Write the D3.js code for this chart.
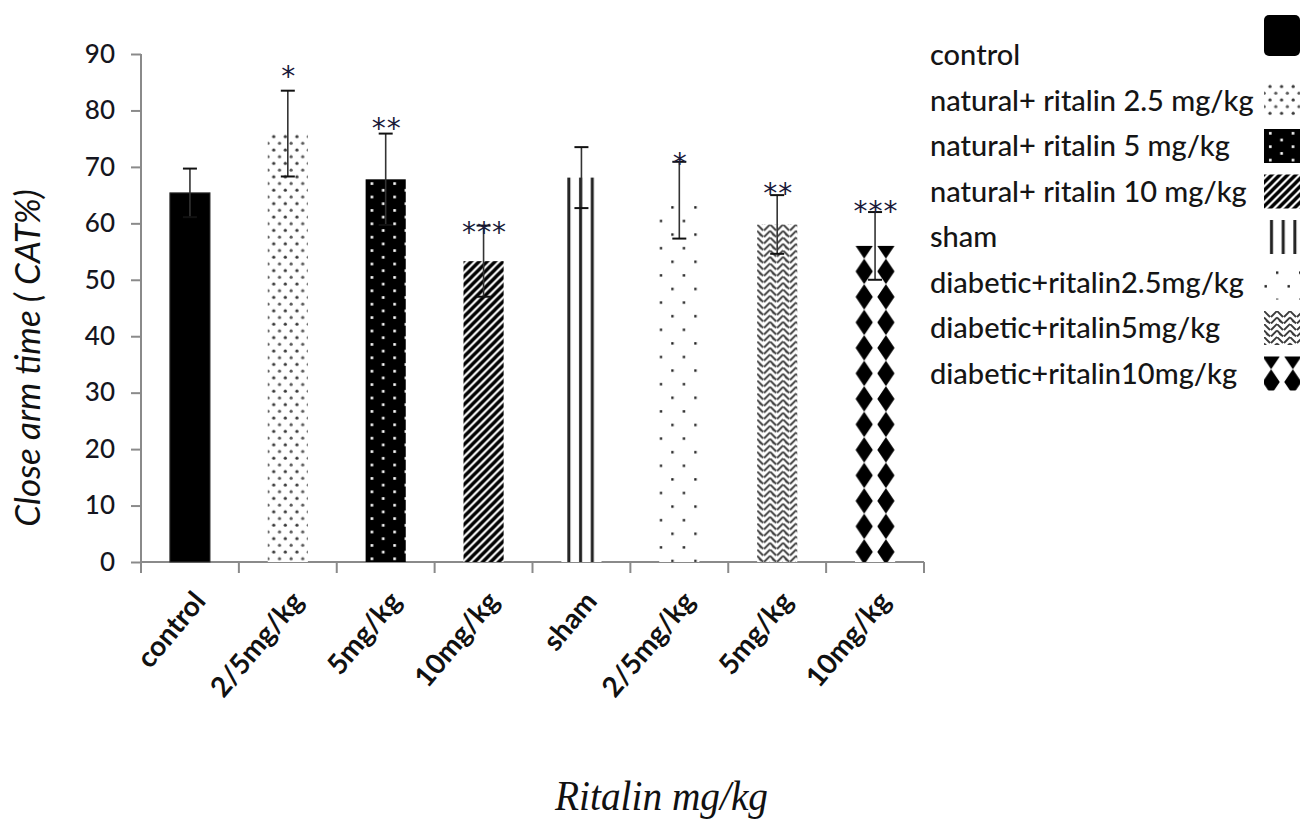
<!DOCTYPE html>
<html>
<head>
<meta charset="utf-8">
<script src="https://cdn.jsdelivr.net/npm/d3@7"></script>
<style>
  html, body { margin: 0; padding: 0; background: #fff; }
  svg { display: block; }
</style>
</head>
<body>
<svg id="chart" width="1301" height="821"></svg>
<script>
// values
const categories = ["control", "2/5mg/kg", "5mg/kg", "10mg/kg", "sham", "2/5mg/kg", "5mg/kg", "10mg/kg"];
const groups = [
  "control",
  "natural+ ritalin 2.5 mg/kg",
  "natural+ ritalin 5 mg/kg",
  "natural+ ritalin 10 mg/kg",
  "sham",
  "diabetic+ritalin2.5mg/kg",
  "diabetic+ritalin5mg/kg",
  "diabetic+ritalin10mg/kg"
];
const means = [65.4, 75.9, 67.8, 53.3, 68.1, 64.1, 59.8, 56.0];
const errors = [4.3, 7.6, 8.1, 6.3, 5.4, 6.8, 5.2, 6.0];
const stars = ["", "*", "**", "***", "", "*", "**", "***"];
const starLevel = [null, 87.2, 78.0, 59.5, null, 71.8, 66.4, 63.3];
const yTicks = [0, 10, 20, 30, 40, 50, 60, 70, 80, 90];
const fills = ["solid", "fineDots", "blackDots", "diag", "vert", "sparse", "weave", "diamonds"];

const width = 1301, height = 821;
const margin = { left: 141, right: 377, top: 54, bottom: 259 };

const svg = d3.select("#chart");
const defs = svg.append("defs");

const idx = d3.range(categories.length);

const xEdge = d3.scaleBand()
  .domain(idx)
  .range([margin.left, width - margin.right])
  .padding(0);

const x = d3.scaleBand()
  .domain(idx)
  .range([margin.left, width - margin.right])
  .paddingInner(0.59)
  .paddingOuter(0.295);

const y = d3.scaleLinear()
  .domain([0, 90])
  .range([height - margin.bottom, margin.top]);

/* ---------- patterns ---------- */
function makePattern(id, kind, x0, y0) {
  let p = defs.append("pattern")
    .attr("id", id)
    .attr("patternUnits", "userSpaceOnUse")
    .attr("x", x0).attr("y", y0);
  if (kind === "fineDots") {
    p.attr("width", 11.6).attr("height", 13.4);
    p.append("rect").attr("width", 11.6).attr("height", 13.4).attr("fill", "#fff");
    p.append("circle").attr("cx", 6).attr("cy", 3).attr("r", 1.6).attr("fill", "#3a3a3a");
    p.append("circle").attr("cx", 0.2).attr("cy", 9.7).attr("r", 1.6).attr("fill", "#5a5a5a");
    p.append("circle").attr("cx", 11.8).attr("cy", 9.7).attr("r", 1.6).attr("fill", "#5a5a5a");
  } else if (kind === "blackDots") {
    p.attr("width", 22.7).attr("height", 13.4);
    p.append("rect").attr("width", 22.7).attr("height", 13.4).attr("fill", "#000");
    p.append("rect").attr("x", 5).attr("y", 3).attr("width", 2.6).attr("height", 2.6).attr("fill", "#fff");
    p.append("rect").attr("x", 16.3).attr("y", 9.7).attr("width", 2.6).attr("height", 2.6).attr("fill", "#fff");
  } else if (kind === "diag") {
    p.attr("width", 8).attr("height", 8);
    p.append("rect").attr("width", 8).attr("height", 8).attr("fill", "#fff");
    p.append("path")
      .attr("d", "M-1,9 L9,-1 M-2,2 L2,-2 M6,10 L10,6")
      .attr("stroke", "#000").attr("stroke-width", 3.4);
  } else if (kind === "vert") {
    p.attr("width", 11.7).attr("height", 10);
    p.append("rect").attr("width", 11.7).attr("height", 10).attr("fill", "#fff");
    p.append("rect").attr("x", 6).attr("width", 3).attr("height", 10).attr("fill", "#222");
  } else if (kind === "sparse") {
    p.attr("width", 23).attr("height", 27.2);
    p.append("rect").attr("width", 23).attr("height", 27.2).attr("fill", "#fff");
    p.append("rect").attr("x", 12).attr("y", 6).attr("width", 2.4).attr("height", 2.4).attr("fill", "#222");
    p.append("rect").attr("x", 0.5).attr("y", 19.6).attr("width", 2.4).attr("height", 2.4).attr("fill", "#222");
  } else if (kind === "weave") {
    p.attr("width", 13).attr("height", 13);
    p.append("rect").attr("width", 13).attr("height", 13).attr("fill", "#fff");
    p.append("path")
      .attr("d", "M0,0 L6,6 M0,6.5 L6,12.5 M0,-6.5 L6,-0.5 M7,6 L13,0 M7,12.5 L13,6.5 M7,19 L13,13 M2,9 L4,11")
      .attr("stroke", "#3c3c3c").attr("stroke-width", 1.9).attr("fill", "none");
  } else if (kind === "diamonds") {
    const w = 21.7, h = 25.5;
    p.attr("width", w).attr("height", h);
    p.append("rect").attr("width", w).attr("height", h).attr("fill", "#fff");
    const dia = cy => `M${w / 2},${cy - 12.8} L${w / 2 + 8.6},${cy} L${w / 2},${cy + 12.8} L${w / 2 - 8.6},${cy} Z`;
    p.append("path").attr("d", dia(0) + " " + dia(h)).attr("fill", "#000");
  }
  return "url(#" + id + ")";
}

function fillFor(i, kind, x0, y0, tag) {
  if (kind === "solid") return "#000";
  return makePattern("pat-" + tag + "-" + i, kind, x0, y0);
}

/* ---------- axes ---------- */
const yAxis = d3.axisLeft(y)
  .tickValues(yTicks)
  .tickSize(10)
  .tickPadding(16);

const yAxisSel = svg.append("g")
  .attr("class", "yaxis")
  .attr("transform", "translate(" + margin.left + ",0)")
  .call(yAxis);

yAxisSel.selectAll("path, line").attr("stroke", "#8a8a8a").attr("stroke-width", 2);
yAxisSel.select(".domain").attr("d", "M0," + y(90) + "V" + y(0));
yAxisSel.selectAll("text")
  .style("font-family", "Lato, 'Open Sans', sans-serif")
  .style("font-size", "26px")
  .style("font-weight", "500")
  .attr("fill", "#151520");

const xAxisSel = svg.append("g").attr("class", "xaxis");
xAxisSel.append("line")
  .attr("x1", margin.left).attr("x2", width - margin.right)
  .attr("y1", y(0)).attr("y2", y(0))
  .attr("stroke", "#8a8a8a").attr("stroke-width", 2);

const edges = idx.map(i => xEdge(i)).concat([xEdge.range()[1]]);
xAxisSel.selectAll("line.tick").data(edges).join("line")
  .attr("class", "tick")
  .attr("x1", d => d).attr("x2", d => d)
  .attr("y1", y(0)).attr("y2", y(0) + 11)
  .attr("stroke", "#8a8a8a").attr("stroke-width", 2);

xAxisSel.selectAll("text").data(categories).join("text")
  .attr("transform", (d, i) => "translate(" + (x(i) + x.bandwidth() / 2 + 17) + "," + (y(0) + 40) + ") rotate(-50)")
  .attr("text-anchor", "end")
  .style("font-family", "Lato, 'Open Sans', sans-serif")
  .style("font-size", "28px")
  .style("font-weight", "bold")
  .attr("fill", "#111")
  .text(d => d);

/* ---------- bars ---------- */
svg.append("g").attr("class", "bars")
  .selectAll("rect").data(means).join("rect")
  .attr("x", (d, i) => x(i))
  .attr("y", d => y(d))
  .attr("width", x.bandwidth())
  .attr("height", d => y(0) - y(d))
  .attr("fill", (d, i) => {
    const k = fills[i];
    let ox = x(i);
    if (k === "diamonds") ox = x(i) + x.bandwidth() / 2 - 21.7;
    return fillFor(i, k, ox, y(d), "bar");
  })
  .attr("stroke", (d, i) => fills[i] === "solid" ? "#333" : "none")
  .attr("stroke-width", 1);

/* ---------- error bars ---------- */
const errG = svg.append("g").attr("class", "errors");
const cx = i => x(i) + x.bandwidth() / 2;
errG.selectAll("line.stem").data(means).join("line")
  .attr("class", "stem")
  .attr("x1", (d, i) => cx(i)).attr("x2", (d, i) => cx(i))
  .attr("y1", (d, i) => y(d - errors[i])).attr("y2", (d, i) => y(d + errors[i]))
  .attr("stroke", "#333").attr("stroke-width", 1.6);
errG.selectAll("line.capTop").data(means).join("line")
  .attr("class", "capTop")
  .attr("x1", (d, i) => cx(i) - 7).attr("x2", (d, i) => cx(i) + 7)
  .attr("y1", (d, i) => y(d + errors[i])).attr("y2", (d, i) => y(d + errors[i]))
  .attr("stroke", "#111").attr("stroke-width", 2);
errG.selectAll("line.capBot").data(means).join("line")
  .attr("class", "capBot")
  .attr("x1", (d, i) => cx(i) - 7).attr("x2", (d, i) => cx(i) + 7)
  .attr("y1", (d, i) => y(d - errors[i])).attr("y2", (d, i) => y(d - errors[i]))
  .attr("stroke", "#111").attr("stroke-width", 2);

/* ---------- significance stars ---------- */
svg.append("g").attr("class", "stars")
  .selectAll("text").data(idx.filter(i => stars[i])).join("text")
  .attr("x", i => cx(i) + 1)
  .attr("y", i => y(starLevel[i]) + 16)
  .attr("text-anchor", "middle")
  .style("font-family", "'DejaVu Sans', sans-serif")
  .style("font-size", "28px")
  .style("letter-spacing", "1px")
  .attr("fill", "#1b1b3a")
  .text(i => stars[i]);

/* ---------- axis titles ---------- */
svg.append("text")
  .attr("transform", "translate(40," + ((y(0) + y(90)) / 2 + 50) + ") rotate(-90)")
  .attr("text-anchor", "middle")
  .style("font-family", "Lato, 'Open Sans', sans-serif")
  .style("font-size", "35px")
  .style("font-style", "italic")
  .attr("fill", "#111")
  .text("Close  arm time ( CAT%)");

svg.append("text")
  .attr("x", 555)
  .attr("y", 810)
  .attr("textLength", 213)
  .attr("lengthAdjust", "spacingAndGlyphs")
  .style("font-family", "'Liberation Serif', 'Times New Roman', serif")
  .style("font-size", "43px")
  .style("font-style", "italic")
  .attr("fill", "#111")
  .text("Ritalin mg/kg");

/* ---------- legend ---------- */
const rowY = i => 55 + 45.5 * i;
const legendSel = svg.append("g").attr("class", "legend");

legendSel.selectAll("text").data(groups).join("text")
  .attr("x", 930)
  .attr("y", (d, i) => rowY(i))
  .attr("dy", "0.35em")
  .style("font-family", "Lato, 'Open Sans', sans-serif")
  .style("font-size", "29px")
  .style("font-weight", "500")
  .attr("fill", "#151515")
  .text(d => d);

legendSel.selectAll("rect").data(groups).join("rect")
  .attr("x", 1264)
  .attr("y", (d, i) => i === 0 ? rowY(i) - 40 : rowY(i) - 17)
  .attr("width", 36)
  .attr("height", (d, i) => i === 0 ? 41 : 34)
  .attr("rx", (d, i) => i === 0 ? 5 : 0)
  .attr("fill", (d, i) => {
    const sy = i === 0 ? rowY(i) - 40 : rowY(i) - 17;
    let ox = 1264;
    if (fills[i] === "diamonds") ox = 1282 - 21.7;
    return fillFor(i, fills[i], ox, sy, "leg");
  });
</script>
</body>
</html>
